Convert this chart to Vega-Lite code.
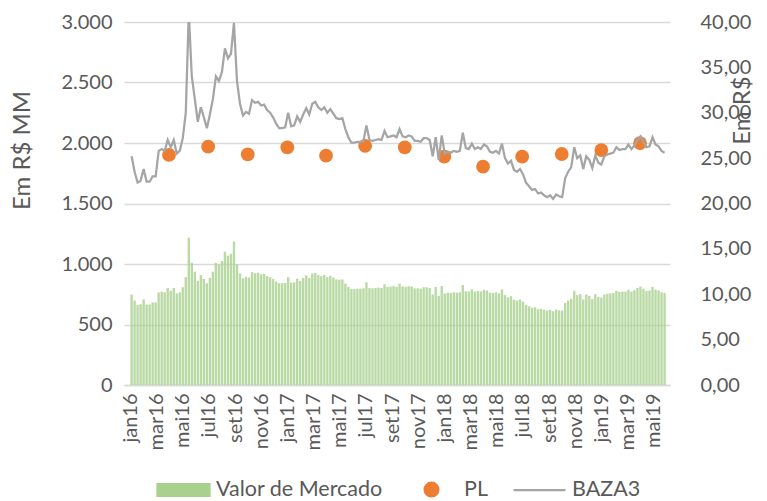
{
  "$schema": "https://vega.github.io/schema/vega-lite/v6.json",
  "width": 546,
  "height": 363,
  "autosize": {"type": "none"},
  "padding": {"left": 124, "top": 22, "right": 97, "bottom": 116},
  "config": {
    "view": {"stroke": null},
    "font": "Lato",
    "locale": {
      "number": {"decimal": ",", "thousands": ".", "grouping": [3], "currency": ["R$", ""]},
      "time": {
        "dateTime": "%A, %e de %B de %Y. %X",
        "date": "%d/%m/%Y",
        "time": "%H:%M:%S",
        "periods": ["AM", "PM"],
        "days": ["domingo", "segunda", "terça", "quarta", "quinta", "sexta", "sábado"],
        "shortDays": ["dom", "seg", "ter", "qua", "qui", "sex", "sáb"],
        "months": ["janeiro", "fevereiro", "março", "abril", "maio", "junho", "julho", "agosto", "setembro", "outubro", "novembro", "dezembro"],
        "shortMonths": ["jan", "fev", "mar", "abr", "mai", "jun", "jul", "ago", "set", "out", "nov", "dez"]
      }
    },
    "axis": {
      "labelFont": "Lato",
      "titleFont": "Lato",
      "labelColor": "#595959",
      "titleColor": "#595959",
      "labelFontSize": 20,
      "titleFontSize": 24,
      "titleFontWeight": "normal",
      "ticks": false,
      "domain": false,
      "grid": false
    }
  },
  "datasets": {
    "w": [
      {"d":"2016-01-04","p":25.2,"v":748},{"d":"2016-01-11","p":23.5,"v":698},{"d":"2016-01-18","p":22.3,"v":662},{"d":"2016-01-25","p":22.5,"v":668},
      {"d":"2016-02-01","p":23.8,"v":707},{"d":"2016-02-08","p":22.4,"v":665},{"d":"2016-02-15","p":22.4,"v":665},{"d":"2016-02-22","p":23.0,"v":683},
      {"d":"2016-02-29","p":23.0,"v":683},{"d":"2016-03-07","p":25.8,"v":766},{"d":"2016-03-14","p":26.0,"v":772},{"d":"2016-03-21","p":25.8,"v":766},
      {"d":"2016-03-28","p":27.0,"v":802},{"d":"2016-04-04","p":26.2,"v":778},{"d":"2016-04-11","p":27.0,"v":802},{"d":"2016-04-18","p":25.5,"v":757},
      {"d":"2016-04-25","p":25.8,"v":766},{"d":"2016-05-02","p":27.2,"v":808},{"d":"2016-05-09","p":30.0,"v":891},{"d":"2016-05-16","p":41.0,"v":1218},
      {"d":"2016-05-23","p":34.0,"v":1010},{"d":"2016-05-30","p":31.5,"v":936},{"d":"2016-06-06","p":29.0,"v":861},{"d":"2016-06-13","p":30.6,"v":909},
      {"d":"2016-06-20","p":29.5,"v":876},{"d":"2016-06-27","p":28.3,"v":841},{"d":"2016-07-04","p":29.8,"v":885},{"d":"2016-07-11","p":31.5,"v":936},
      {"d":"2016-07-18","p":34.0,"v":1010},{"d":"2016-07-25","p":33.5,"v":995},{"d":"2016-08-01","p":34.5,"v":1025},{"d":"2016-08-08","p":37.1,"v":1102},
      {"d":"2016-08-15","p":36.0,"v":1069},{"d":"2016-08-22","p":36.5,"v":1084},{"d":"2016-08-29","p":39.9,"v":1185},{"d":"2016-09-05","p":33.5,"v":995},
      {"d":"2016-09-12","p":31.0,"v":921},{"d":"2016-09-19","p":29.7,"v":882},{"d":"2016-09-26","p":30.1,"v":894},{"d":"2016-10-03","p":29.9,"v":888},
      {"d":"2016-10-10","p":31.4,"v":933},{"d":"2016-10-17","p":31.1,"v":924},{"d":"2016-10-24","p":31.2,"v":927},{"d":"2016-10-31","p":30.8,"v":915},
      {"d":"2016-11-07","p":30.9,"v":918},{"d":"2016-11-14","p":30.3,"v":900},{"d":"2016-11-21","p":30.0,"v":891},{"d":"2016-11-28","p":29.5,"v":876},
      {"d":"2016-12-05","p":28.8,"v":855},{"d":"2016-12-12","p":28.3,"v":841},{"d":"2016-12-19","p":28.3,"v":841},{"d":"2016-12-26","p":28.4,"v":843},
      {"d":"2017-01-02","p":30.0,"v":891},{"d":"2017-01-09","p":28.5,"v":846},{"d":"2017-01-16","p":28.6,"v":849},{"d":"2017-01-23","p":29.6,"v":879},
      {"d":"2017-01-30","p":29.0,"v":861},{"d":"2017-02-06","p":29.8,"v":885},{"d":"2017-02-13","p":30.5,"v":906},{"d":"2017-02-20","p":29.8,"v":885},
      {"d":"2017-02-27","p":31.0,"v":921},{"d":"2017-03-06","p":31.2,"v":927},{"d":"2017-03-13","p":30.6,"v":909},{"d":"2017-03-20","p":30.3,"v":900},
      {"d":"2017-03-27","p":30.6,"v":909},{"d":"2017-04-03","p":30.0,"v":891},{"d":"2017-04-10","p":30.4,"v":903},{"d":"2017-04-17","p":29.9,"v":888},
      {"d":"2017-04-24","p":29.4,"v":873},{"d":"2017-05-01","p":29.3,"v":870},{"d":"2017-05-08","p":29.4,"v":873},{"d":"2017-05-15","p":28.2,"v":838},
      {"d":"2017-05-22","p":27.3,"v":811},{"d":"2017-05-29","p":26.7,"v":793},{"d":"2017-06-05","p":26.7,"v":793},{"d":"2017-06-12","p":26.8,"v":796},
      {"d":"2017-06-19","p":26.8,"v":796},{"d":"2017-06-26","p":26.9,"v":799},{"d":"2017-07-03","p":28.6,"v":849},{"d":"2017-07-10","p":27.0,"v":802},
      {"d":"2017-07-17","p":26.9,"v":799},{"d":"2017-07-24","p":27.0,"v":802},{"d":"2017-07-31","p":27.1,"v":805},{"d":"2017-08-07","p":27.0,"v":802},
      {"d":"2017-08-14","p":28.0,"v":832},{"d":"2017-08-21","p":27.3,"v":811},{"d":"2017-08-28","p":27.4,"v":814},{"d":"2017-09-04","p":27.5,"v":817},
      {"d":"2017-09-11","p":27.3,"v":811},{"d":"2017-09-18","p":28.2,"v":838},{"d":"2017-09-25","p":27.4,"v":814},{"d":"2017-10-02","p":27.3,"v":811},
      {"d":"2017-10-09","p":27.5,"v":817},{"d":"2017-10-16","p":27.4,"v":814},{"d":"2017-10-23","p":26.9,"v":799},{"d":"2017-10-30","p":26.9,"v":799},
      {"d":"2017-11-06","p":26.8,"v":796},{"d":"2017-11-13","p":27.2,"v":808},{"d":"2017-11-20","p":27.2,"v":808},{"d":"2017-11-27","p":27.0,"v":802},
      {"d":"2017-12-04","p":25.2,"v":748},{"d":"2017-12-11","p":27.3,"v":811},{"d":"2017-12-18","p":24.8,"v":737},{"d":"2017-12-25","p":27.5,"v":817},
      {"d":"2018-01-01","p":25.5,"v":757},{"d":"2018-01-08","p":25.7,"v":763},{"d":"2018-01-15","p":25.6,"v":760},{"d":"2018-01-22","p":25.8,"v":766},
      {"d":"2018-01-29","p":25.7,"v":763},{"d":"2018-02-05","p":25.8,"v":766},{"d":"2018-02-12","p":27.8,"v":826},{"d":"2018-02-19","p":26.1,"v":775},
      {"d":"2018-02-26","p":26.0,"v":772},{"d":"2018-03-05","p":26.6,"v":790},{"d":"2018-03-12","p":26.0,"v":772},{"d":"2018-03-19","p":26.2,"v":778},
      {"d":"2018-03-26","p":26.0,"v":772},{"d":"2018-04-02","p":26.5,"v":787},{"d":"2018-04-09","p":26.3,"v":781},{"d":"2018-04-16","p":25.7,"v":763},
      {"d":"2018-04-23","p":25.6,"v":760},{"d":"2018-04-30","p":25.8,"v":766},{"d":"2018-05-07","p":25.5,"v":757},{"d":"2018-05-14","p":26.6,"v":790},
      {"d":"2018-05-21","p":25.0,"v":743},{"d":"2018-05-28","p":24.4,"v":725},{"d":"2018-06-04","p":24.7,"v":734},{"d":"2018-06-11","p":23.7,"v":704},
      {"d":"2018-06-18","p":23.5,"v":698},{"d":"2018-06-25","p":23.8,"v":707},{"d":"2018-07-02","p":23.2,"v":689},{"d":"2018-07-09","p":22.3,"v":662},
      {"d":"2018-07-16","p":21.9,"v":650},{"d":"2018-07-23","p":21.5,"v":639},{"d":"2018-07-30","p":21.6,"v":642},{"d":"2018-08-06","p":21.1,"v":627},
      {"d":"2018-08-13","p":21.2,"v":630},{"d":"2018-08-20","p":20.9,"v":621},{"d":"2018-08-27","p":20.7,"v":615},{"d":"2018-09-03","p":20.9,"v":621},
      {"d":"2018-09-10","p":20.5,"v":609},{"d":"2018-09-17","p":21.0,"v":624},{"d":"2018-09-24","p":20.8,"v":618},{"d":"2018-10-01","p":20.7,"v":615},
      {"d":"2018-10-08","p":22.8,"v":677},{"d":"2018-10-15","p":23.5,"v":698},{"d":"2018-10-22","p":24.0,"v":713},{"d":"2018-10-29","p":26.2,"v":778},
      {"d":"2018-11-05","p":25.0,"v":743},{"d":"2018-11-12","p":25.3,"v":751},{"d":"2018-11-19","p":23.8,"v":707},{"d":"2018-11-26","p":25.2,"v":748},
      {"d":"2018-12-03","p":24.8,"v":737},{"d":"2018-12-10","p":23.9,"v":710},{"d":"2018-12-17","p":25.3,"v":751},{"d":"2018-12-24","p":24.5,"v":728},
      {"d":"2018-12-31","p":24.3,"v":722},{"d":"2019-01-07","p":25.2,"v":748},{"d":"2019-01-14","p":25.4,"v":754},{"d":"2019-01-21","p":25.5,"v":757},
      {"d":"2019-01-28","p":25.6,"v":760},{"d":"2019-02-04","p":26.2,"v":778},{"d":"2019-02-11","p":25.9,"v":769},{"d":"2019-02-18","p":26.0,"v":772},
      {"d":"2019-02-25","p":26.0,"v":772},{"d":"2019-03-04","p":26.5,"v":787},{"d":"2019-03-11","p":26.0,"v":772},{"d":"2019-03-18","p":26.4,"v":784},
      {"d":"2019-03-25","p":27.0,"v":802},{"d":"2019-04-01","p":27.4,"v":814},{"d":"2019-04-08","p":26.8,"v":796},{"d":"2019-04-15","p":26.2,"v":778},
      {"d":"2019-04-22","p":26.3,"v":781},{"d":"2019-04-29","p":27.3,"v":811},{"d":"2019-05-06","p":26.5,"v":787},{"d":"2019-05-13","p":26.3,"v":781},
      {"d":"2019-05-20","p":25.8,"v":766},{"d":"2019-05-27","p":25.6,"v":760}
    ],
    "pl": [
      {"d":"2016-03-31","v":1901},{"d":"2016-06-30","v":1970},{"d":"2016-09-30","v":1906},{"d":"2016-12-31","v":1964},
      {"d":"2017-03-31","v":1895},{"d":"2017-06-30","v":1977},{"d":"2017-09-30","v":1964},{"d":"2017-12-31","v":1887},
      {"d":"2018-03-31","v":1804},{"d":"2018-06-30","v":1887},{"d":"2018-09-30","v":1909},{"d":"2018-12-31","v":1942},
      {"d":"2019-03-31","v":1998}
    ]
  },
  "data": {"name": "w"},
  "encoding": {
    "x": {
      "field": "d",
      "type": "temporal",
      "scale": {"type": "utc", "domain": [{"year": 2015, "month": 12, "date": 29, "utc": true}, {"year": 2019, "month": 5, "date": 28, "utc": true}]},
      "axis": {
        "title": null,
        "labelExpr": "utcFormat(datum.value, '%b%y')",
        "tickCount": {"interval": "month", "step": 2},
        "labelAngle": 270,
        "labelPadding": 8,
        "labelOverlap": false,
        "labelFlush": false,
        "labelBound": false,
        "domain": true,
        "domainColor": "#d9d9d9",
        "domainWidth": 1.5
      }
    }
  },
  "layer": [
    {
      "encoding": {
        "y": {
          "field": "v",
          "type": "quantitative",
          "scale": {"domain": [0, 3000]},
          "axis": {
            "title": "Em R$ MM",
            "values": [0, 500, 1000, 1500, 2000, 2500, 3000],
            "format": ",.0f",
            "grid": true,
            "gridColor": "#d9d9d9",
            "gridWidth": 1.5,
            "labelPadding": 12,
            "titleX": -102,
            "titleY": 128,
            "titleAngle": 270,
            "titleAlign": "center",
            "titleBaseline": "middle"
          }
        }
      },
      "layer": [
        {
          "mark": {"type": "bar", "size": 2.4, "opacity": 0.8},
          "encoding": {
            "color": {
              "datum": "Valor de Mercado",
              "scale": {"domain": ["Valor de Mercado", "PL", "BAZA3"], "range": ["#A9D18E", "#ED7D31", "#A5A5A5"]},
              "legend": {
                "orient": "none",
                "direction": "horizontal",
                "legendX": 32,
                "legendY": 440,
                "title": null,
                "labelFont": "Lato",
                "labelFontSize": 21.5,
                "labelColor": "#595959",
                "labelLimit": 400,
                "symbolSize": 2704,
                "symbolOpacity": 1,
                "labelOffset": 5,
                "columnPadding": 21,
                "encode": {
                  "symbols": {
                    "update": {
                      "shape": {"signal": "datum.value === 'PL' ? 'circle' : datum.value === 'BAZA3' ? 'stroke' : 'M-1,-0.23H1V0.23H-1Z'"},
                      "size": {"signal": "datum.value === 'PL' ? 190 : 2704"},
                      "fill": {"signal": "datum.value === 'PL' ? '#ED7D31' : datum.value === 'BAZA3' ? 'transparent' : '#A9D18E'"},
                      "stroke": {"signal": "datum.value === 'BAZA3' ? '#A5A5A5' : 'transparent'"},
                      "strokeWidth": {"value": 2.25},
                      "opacity": {"value": 1}
                    }
                  }
                }
              }
            }
          }
        },
        {
          "data": {"name": "pl"},
          "mark": {"type": "point", "filled": true, "size": 190, "opacity": 1},
          "encoding": {"color": {"datum": "PL"}}
        }
      ]
    },
    {
      "mark": {"type": "line", "strokeWidth": 2.25, "clip": true},
      "encoding": {
        "y": {
          "field": "p",
          "type": "quantitative",
          "scale": {"domain": [0, 40]},
          "axis": {
            "orient": "right",
            "title": "Em R$",
            "values": [0, 5, 10, 15, 20, 25, 30, 35, 40],
            "format": ",.2f",
            "labelPadding": 30,
            "labelAlign": "left",
            "titleX": 72,
            "titleY": 88,
            "titleAngle": 270,
            "titleAlign": "center",
            "titleBaseline": "middle"
          }
        },
        "color": {"datum": "BAZA3"}
      }
    }
  ],
  "resolve": {"scale": {"y": "independent"}}
}
